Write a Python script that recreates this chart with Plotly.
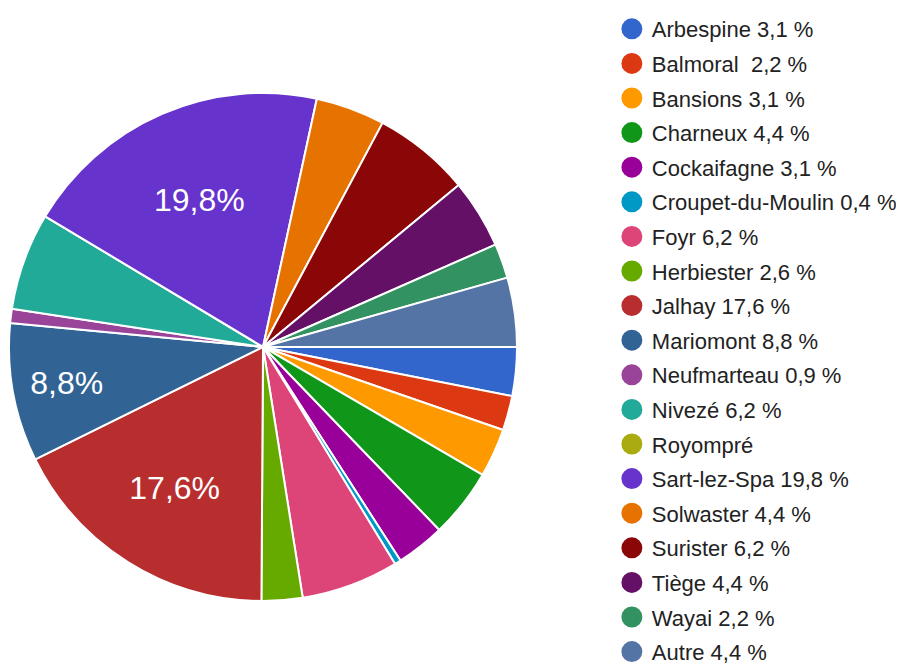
import plotly.graph_objects as go

labels = ["Arbespine", "Balmoral", "Bansions", "Charneux", "Cockaifagne",
          "Croupet-du-Moulin", "Foyr", "Herbiester", "Jalhay", "Mariomont",
          "Neufmarteau", "Nivezé", "Royompré", "Sart-lez-Spa", "Solwaster",
          "Surister", "Tiège", "Wayai", "Autre"]
values = [3.1, 2.2, 3.1, 4.4, 3.1, 0.4, 6.2, 2.6, 17.6, 8.8,
          0.9, 6.2, 0.0, 19.8, 4.4, 6.2, 4.4, 2.2, 4.4]
legend_labels = ["Arbespine 3,1 %", "Balmoral  2,2 %", "Bansions 3,1 %", "Charneux 4,4 %",
                 "Cockaifagne 3,1 %", "Croupet-du-Moulin 0,4 %", "Foyr 6,2 %",
                 "Herbiester 2,6 %", "Jalhay 17,6 %", "Mariomont 8,8 %",
                 "Neufmarteau 0,9 %", "Nivezé 6,2 %", "Royompré", "Sart-lez-Spa 19,8 %",
                 "Solwaster 4,4 %", "Surister 6,2 %", "Tiège 4,4 %", "Wayai 2,2 %",
                 "Autre 4,4 %"]
slice_text = ["", "", "", "", "", "", "", "", "17,6%", "8,8%",
              "", "", "", "19,8%", "", "", "", "", ""]
colors = ["#3366cc", "#dc3912", "#ff9900", "#109618", "#990099", "#0099c6",
          "#dd4477", "#66aa00", "#b82e2e", "#316395", "#994499", "#22aa99",
          "#aaaa11", "#6633cc", "#e67300", "#8b0707", "#651067", "#329262",
          "#5574a6"]

fig = go.Figure()
fig.add_trace(go.Pie(
    labels=labels, values=values, text=slice_text, textinfo="text",
    textposition="inside", insidetextorientation="horizontal",
    insidetextfont=dict(color="white", size=32, family="Arial, Liberation Sans"),
    marker=dict(colors=colors, line=dict(color="white", width=2)),
    sort=False, direction="clockwise", rotation=90, showlegend=False,
    domain=dict(x=[0.0011, 0.5631], y=[0.1123, 0.8728]),
))
for i, (name, col) in enumerate(zip(legend_labels, colors)):
    fig.add_trace(go.Scatter(
        x=[None], y=[None], mode="markers", name=name, legendgroup=f"g{i}",
        marker=dict(symbol="circle", size=16, color=col, line=dict(color=col, width=5)),
    ))

fig.update_layout(
    width=904, height=668,
    margin=dict(l=0, r=0, t=0, b=0),
    paper_bgcolor="white", plot_bgcolor="white",
    xaxis=dict(visible=False, domain=[0.99, 1]), yaxis=dict(visible=False, domain=[0.99, 1]),
    legend=dict(x=0.668, y=1.0, xanchor="left", yanchor="top",
                font=dict(size=22, color="#222222", family="Arial, Liberation Sans"),
                itemwidth=30, traceorder="grouped", tracegroupgap=3.0,
                bgcolor="rgba(0,0,0,0)"),
)
fig.write_html("out.html")
